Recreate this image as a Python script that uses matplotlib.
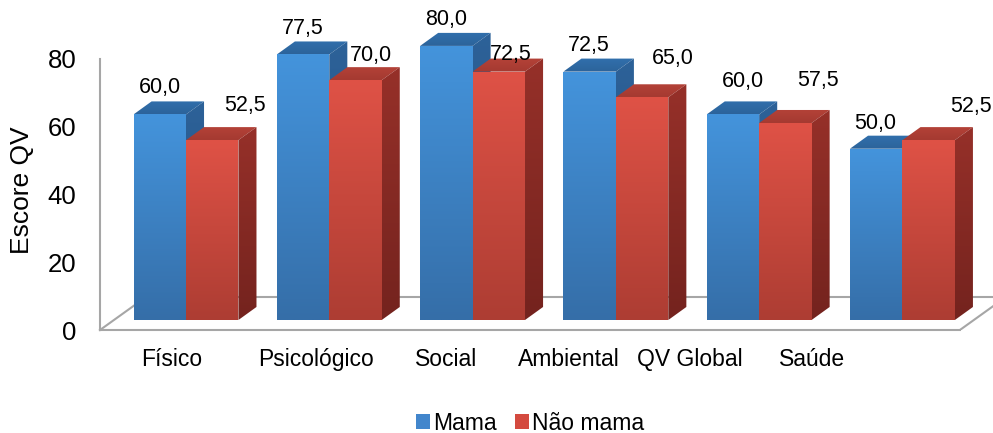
import numpy as np
import matplotlib
matplotlib.use('Agg')
import matplotlib.pyplot as plt
from matplotlib.patches import Polygon, Patch
from matplotlib.colors import LinearSegmentedColormap

categories = ['Físico', 'Psicológico', 'Social', 'Ambiental', 'QV Global', 'Saúde']
mama = [60.0, 77.5, 80.0, 72.5, 60.0, 50.0]
nao_mama = [52.5, 70.0, 72.5, 65.0, 57.5, 52.5]
series_names = ['Mama', 'Não mama']
y_ticks = [0, 20, 40, 60, 80]

# layout (data units: x = category index, y = score on the bar plane)
bar_w = 0.366
dx, dy = 0.126, 3.8            # depth of the 3d bars
front_scale, front_drop = 0.99, 2.92   # front plane (axis labels, floor edge)
floor_dx, floor_dy = 0.32, 9.6         # floor depth
cat_label_x = [-0.098, 0.907, 1.814, 2.673, 3.517, 4.368]
blue_off = [(0, 14), (0, 13), (0, 13), (-1, 13), (10, 20), (-1, 12)]
red_off = [(33, 22), (15, 12), (12, 4), (31, 26), (33, 29), (42, 21)]

blue = dict(front=('#4494dc', '#356ea8'), top=('#3170ad', '#2c639a'), side=('#2d6299', '#234d7b'))
red = dict(front=('#df5246', '#ad3d33'), top=('#b44238', '#a53a31'), side=('#963029', '#74231e'))
floor_col = '#a6a6a6'

plt.rcParams['font.family'] = ['Liberation Sans', 'DejaVu Sans']

fig = plt.figure(figsize=(9.93, 4.33), dpi=100)
ax = fig.add_axes([100 / 993, 103 / 433, 893 / 993, 330 / 433])
xlim = (-0.600, 5.632)
ylim = (-front_drop, 93.4)

z = [3]


def face(xs, ys, cols):
    poly = Polygon(list(zip(xs, ys)), closed=True, facecolor='none', edgecolor='none')
    ax.add_patch(poly)
    grad = np.linspace(0, 1, 256)[:, None]
    cmap = LinearSegmentedColormap.from_list('g', list(cols))
    im = ax.imshow(grad, extent=(min(xs), max(xs), min(ys), max(ys)), origin='upper',
                   cmap=cmap, aspect='auto', zorder=z[0], interpolation='bilinear')
    im.set_clip_path(poly)
    z[0] += 1


def bar3d(x0, h, style):
    x1 = x0 + bar_w
    face([x0, x1, x1, x0], [0, 0, h, h], style['front'])
    face([x0, x1, x1 + dx, x0 + dx], [h, h, h + dy, h + dy], style['top'])
    face([x1, x1 + dx, x1 + dx, x1], [0, dy, h + dy, h], style['side'])


# floor and left axis line
y0 = -front_drop
x_front_l, x_front_r = -0.600, 5.401
lw = 1.5
ax.plot([x_front_l, x_front_l + floor_dx], [y0, y0 + floor_dy], color=floor_col, lw=lw, zorder=1, clip_on=False)
ax.plot([x_front_l + floor_dx, x_front_r + floor_dx], [y0 + floor_dy] * 2, color=floor_col, lw=lw, zorder=1, clip_on=False)
ax.plot([x_front_r, x_front_r + floor_dx], [y0, y0 + floor_dy], color=floor_col, lw=lw, zorder=1)
ax.plot([x_front_l, x_front_r], [y0, y0], color=floor_col, lw=lw, zorder=1, clip_on=False)
ax.plot([x_front_l, x_front_l], [y0, 80 * front_scale - front_drop], color=floor_col, lw=lw, zorder=1, clip_on=False)

for i in range(len(categories)):
    bar3d(i - bar_w, mama[i], blue)
    bar3d(i, nao_mama[i], red)
    for val, xc, off in [(mama[i], i - bar_w / 2, blue_off[i]), (nao_mama[i], i + bar_w / 2, red_off[i])]:
        ax.annotate(f'{val:.1f}'.replace('.', ','), xy=(xc, val + dy), xytext=off,
                    textcoords='offset pixels', ha='center', va='center', fontsize=15.5, zorder=100)

ax.set_xlim(*xlim)
ax.set_ylim(*ylim)
ax.set_yticks([v * front_scale - front_drop for v in y_ticks])
ax.set_yticklabels([str(v) for v in y_ticks], fontsize=18.5)
ax.set_xticks(cat_label_x)
ax.set_xticklabels(categories, fontsize=16.5)
ax.tick_params(axis='y', length=0, pad=17)
ax.tick_params(axis='x', length=0, pad=13)
for s in ax.spines.values():
    s.set_visible(False)
ax.patch.set_alpha(0)

fig.text(22 / 993, 1 - 190 / 433, 'Escore QV', rotation=90, ha='center', va='center', fontsize=19)

handles = [Patch(facecolor='#4286cc', edgecolor='none'), Patch(facecolor='#d44a3f', edgecolor='none')]
fig.legend(handles, series_names, loc='center', bbox_to_anchor=(530 / 993, 1 - 423 / 433), ncol=2,
           frameon=False, fontsize=16.5, handlelength=0.6, handleheight=0.6, handletextpad=0.15,
           columnspacing=0.8, borderaxespad=0, borderpad=0)

fig.savefig('out.png', dpi=100)
